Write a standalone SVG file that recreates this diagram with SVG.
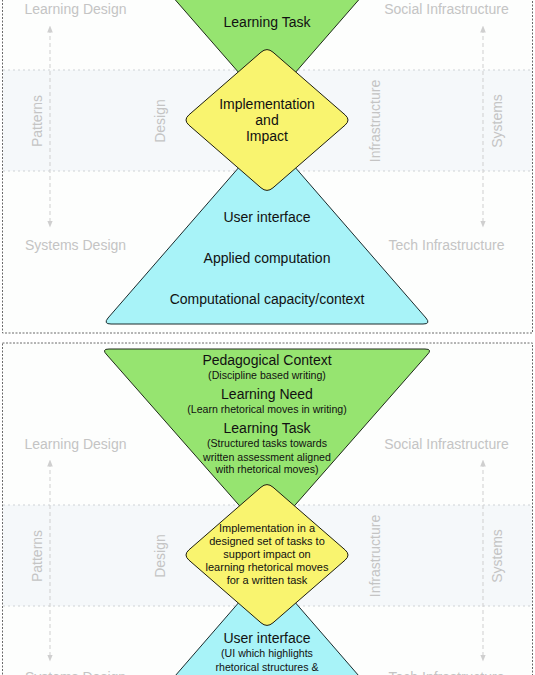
<svg xmlns="http://www.w3.org/2000/svg" width="535" height="675" viewBox="0 0 535 675">
<defs>
<style>
.panel{fill:#fdfefd;stroke:#6a6a6a;stroke-width:1;stroke-dasharray:2 1.5}
.band{fill:#f5f8fa}
.hline{stroke:#cfd3d6;stroke-width:1;stroke-dasharray:2 3}
.axis{stroke:#cfcfcf;stroke-width:1;stroke-dasharray:4 3;fill:none}
.lbl{font-family:"Liberation Sans",Arial,sans-serif;font-size:14px;fill:#c4c4c4;text-anchor:middle}
.t{font-family:"Liberation Sans",Arial,sans-serif;font-size:14px;fill:#111;text-anchor:middle}
.s{font-family:"Liberation Sans",Arial,sans-serif;font-size:10.6px;fill:#111;text-anchor:middle}
.d{font-family:"Liberation Sans",Arial,sans-serif;font-size:11px;fill:#111;text-anchor:middle}
.green{fill:#96e470;stroke:#1e2a1a;stroke-width:1}
.yellow{fill:#f9f46f;stroke:#1e1e10;stroke-width:1}
.cyan{fill:#a8f3f8;stroke:#1a2a2c;stroke-width:1}
</style>
<marker id="ah" viewBox="0 0 10 10" refX="5" refY="5" markerWidth="7" markerHeight="7" orient="auto-start-reverse" markerUnits="userSpaceOnUse">
<path d="M0,1 L10,5 L0,9 Z" fill="#cfcfcf"/>
</marker>
<path id="dia" d="M261,52.2 Q267,47 273,52.2 L345,114.8 Q351,120 345,125.2 L273,187.8 Q267,193 261,187.8 L189,125.2 Q183,120 189,114.8 Z"/>
</defs>

<g id="panel-top">
<rect class="panel" x="2.5" y="-92" width="530" height="425"/>
<rect class="band" x="3" y="70" width="529" height="101"/>
<line class="hline" x1="3" y1="70" x2="532" y2="70"/>
<line class="hline" x1="3" y1="171" x2="532" y2="171"/>
</g>
<g id="panel-bottom">
<rect class="panel" x="2.5" y="343" width="530" height="425"/>
<rect class="band" x="3" y="505" width="529" height="101"/>
<line class="hline" x1="3" y1="505" x2="532" y2="505"/>
<line class="hline" x1="3" y1="606" x2="532" y2="606"/>
</g>

<g id="connectors">
<line class="axis" x1="50" y1="29" x2="50" y2="224" marker-start="url(#ah)" marker-end="url(#ah)"/>
<line class="axis" x1="483" y1="29" x2="483" y2="224" marker-start="url(#ah)" marker-end="url(#ah)"/>
<line class="axis" x1="50" y1="463" x2="50" y2="658" marker-start="url(#ah)" marker-end="url(#ah)"/>
<line class="axis" x1="483" y1="463" x2="483" y2="658" marker-start="url(#ah)" marker-end="url(#ah)"/>
</g>

<g id="labels-top">
<text class="lbl" x="75.5" y="14">Learning Design</text>
<text class="lbl" x="446.5" y="14">Social Infrastructure</text>
<text class="lbl" x="75.5" y="250">Systems Design</text>
<text class="lbl" x="446.5" y="250">Tech Infrastructure</text>
<text class="lbl" transform="translate(42,121) rotate(-90)">Patterns</text>
<text class="lbl" transform="translate(165,121) rotate(-90)">Design</text>
<text class="lbl" transform="translate(380,121) rotate(-90)">Infrastructure</text>
<text class="lbl" transform="translate(502,121) rotate(-90)">Systems</text>
</g>
<g id="labels-bottom">
<text class="lbl" x="75.5" y="449">Learning Design</text>
<text class="lbl" x="446.5" y="449">Social Infrastructure</text>
<text class="lbl" x="75.5" y="682">Systems Design</text>
<text class="lbl" x="446.5" y="682">Tech Infrastructure</text>
<text class="lbl" transform="translate(42,556) rotate(-90)">Patterns</text>
<text class="lbl" transform="translate(165,556) rotate(-90)">Design</text>
<text class="lbl" transform="translate(380,556) rotate(-90)">Infrastructure</text>
<text class="lbl" transform="translate(502,556) rotate(-90)">Systems</text>
</g>

<g id="top-learning">
<path class="green" d="M103,-83 L431,-83 L267,105 Z"/>
<text class="t" x="267" y="27">Learning Task</text>
</g>
<g id="top-computation">
<path class="cyan" d="M267,135 L426,318 Q431,324 423,324 L111,324 Q103,324 108,318 Z"/>
<text class="t" x="267" y="222">User interface</text>
<text class="t" x="267" y="263">Applied computation</text>
<text class="t" x="267" y="304">Computational capacity/context</text>
</g>
<g id="top-implementation">
<use href="#dia" class="yellow"/>
<text class="t" x="267" y="109">Implementation</text>
<text class="t" x="267" y="125">and</text>
<text class="t" x="267" y="141">Impact</text>
</g>

<g id="bottom-learning">
<path class="green" d="M109,349 L425,349 Q433,349 427,355 L267,537 L107,355 Q101,349 109,349 Z"/>
<text class="t" x="267" y="365">Pedagogical Context</text>
<text class="s" x="267" y="379">(Discipline based writing)</text>
<text class="t" x="267" y="399">Learning Need</text>
<text class="s" x="267" y="413">(Learn rhetorical moves in writing)</text>
<text class="t" x="267" y="433">Learning Task</text>
<text class="s" x="267" y="447">(Structured tasks towards</text>
<text class="s" x="267" y="461">written assessment aligned</text>
<text class="s" x="267" y="473">with rhetorical moves)</text>
</g>
<g id="bottom-computation">
<path class="cyan" d="M267,570 L431,759 L103,759 Z"/>
<text class="t" x="267" y="643">User interface</text>
<text class="s" x="267" y="657">(UI which highlights</text>
<text class="s" x="267" y="671">rhetorical structures &amp;</text>
</g>
<g id="bottom-implementation">
<use href="#dia" class="yellow" transform="translate(0,435)"/>
<text class="d" x="267" y="532">Implementation in a</text>
<text class="d" x="267" y="545">designed set of tasks to</text>
<text class="d" x="267" y="558">support impact on</text>
<text class="d" x="267" y="571">learning rhetorical moves</text>
<text class="d" x="267" y="584">for a written task</text>
</g>
</svg>
